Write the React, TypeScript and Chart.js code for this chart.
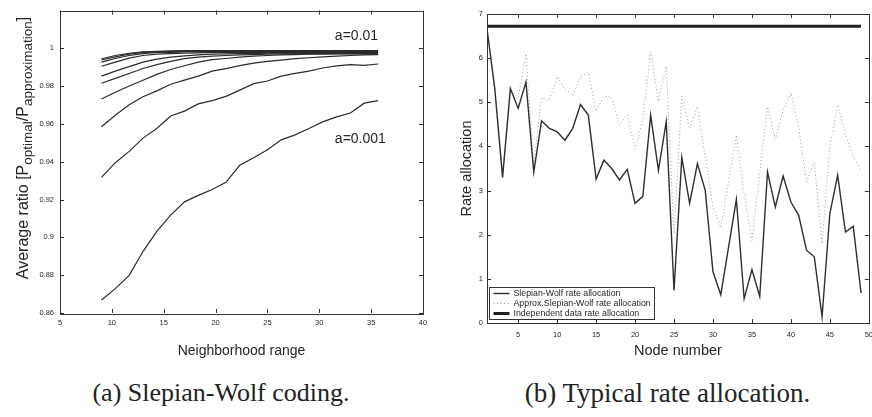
import { useEffect, useRef } from 'react';
import { Chart, registerables } from 'chart.js';

Chart.register(...registerables);

// ---------- (a) Slepian-Wolf coding ----------
const RANGE_X = [9, 10.33, 11.67, 13, 14.33, 15.67, 17, 18.33, 19.67, 21, 22.33, 23.67, 25, 26.33, 27.67, 29, 30.33, 31.67, 33, 34.33, 35.67];

const CURVE_1 = [0.9945, 0.9962, 0.9974, 0.9981, 0.9984, 0.9986, 0.9988, 0.9988, 0.9988, 0.9988, 0.9988, 0.9988, 0.9988, 0.9988, 0.9988, 0.9988, 0.9988, 0.9988, 0.9988, 0.9988, 0.9988];
const CURVE_2 = [0.9938, 0.9955, 0.9969, 0.9978, 0.9981, 0.9983, 0.9984, 0.9984, 0.9984, 0.9984, 0.9984, 0.9984, 0.9984, 0.9984, 0.9984, 0.9984, 0.9984, 0.9984, 0.9984, 0.9984, 0.9984];
const CURVE_3 = [0.9927, 0.9946, 0.9962, 0.9972, 0.9978, 0.9979, 0.9981, 0.9981, 0.9981, 0.9981, 0.9981, 0.9981, 0.9981, 0.9981, 0.9981, 0.9981, 0.9981, 0.9981, 0.9981, 0.9981, 0.9981];
const CURVE_4 = [0.9905, 0.9927, 0.9948, 0.9962, 0.9969, 0.9972, 0.9974, 0.9976, 0.9978, 0.9978, 0.9978, 0.9978, 0.9978, 0.9978, 0.9978, 0.9978, 0.9978, 0.9978, 0.9978, 0.9978, 0.9978];
const CURVE_5 = [0.9853, 0.9879, 0.9903, 0.9927, 0.9943, 0.9953, 0.996, 0.9965, 0.9969, 0.9971, 0.9972, 0.9972, 0.9974, 0.9974, 0.9974, 0.9974, 0.9976, 0.9976, 0.9976, 0.9976, 0.9976];
const CURVE_6 = [0.9815, 0.9841, 0.9867, 0.9893, 0.9914, 0.9931, 0.9945, 0.9953, 0.9959, 0.9962, 0.9965, 0.9967, 0.9969, 0.9971, 0.9971, 0.9972, 0.9972, 0.9972, 0.9972, 0.9972, 0.9972];
const CURVE_7 = [0.9732, 0.9768, 0.9801, 0.9831, 0.9862, 0.9888, 0.9908, 0.9927, 0.994, 0.9946, 0.9953, 0.9959, 0.9962, 0.9965, 0.9967, 0.9969, 0.9969, 0.9971, 0.9971, 0.9971, 0.9971];
const CURVE_8 = [0.9585, 0.9646, 0.9701, 0.9744, 0.9775, 0.981, 0.9832, 0.9853, 0.9879, 0.9893, 0.9908, 0.9922, 0.9931, 0.9938, 0.9945, 0.995, 0.9955, 0.9959, 0.9962, 0.9965, 0.9967];
const CURVE_9 = [0.9317, 0.9395, 0.9455, 0.9525, 0.9576, 0.9642, 0.9668, 0.9706, 0.9723, 0.9746, 0.9779, 0.9813, 0.9827, 0.9853, 0.9867, 0.9879, 0.9896, 0.9907, 0.9914, 0.991, 0.9917];
const CURVE_10 = [0.8669, 0.8729, 0.8799, 0.8925, 0.9032, 0.9118, 0.9188, 0.9222, 0.9253, 0.9291, 0.9381, 0.9421, 0.9464, 0.9516, 0.9542, 0.9576, 0.9611, 0.9637, 0.9658, 0.971, 0.9723];

const CURVES_A = [CURVE_1, CURVE_2, CURVE_3, CURVE_4, CURVE_5, CURVE_6, CURVE_7, CURVE_8, CURVE_9, CURVE_10];

const LABEL_TEXT = ['a=0.01', 'a=0.001'];
const LABEL_X = [31.5, 31.5];
const LABEL_Y = [1.0064, 0.952];

const Y_TITLE_A = [
  { text: 'Average ratio [P', sub: false },
  { text: 'optimal', sub: true },
  { text: '/P', sub: false },
  { text: 'approximation', sub: true },
  { text: ']', sub: false },
];

// ---------- (b) Typical rate allocation ----------
const NODES = [1, 2, 3, 4, 5, 6, 7, 8, 9, 10, 11, 12, 13, 14, 15, 16, 17, 18, 19, 20, 21, 22, 23, 24, 25, 26, 27, 28, 29, 30, 31, 32, 33, 34, 35, 36, 37, 38, 39, 40, 41, 42, 43, 44, 45, 46, 47, 48, 49];
const SW_RATE = [6.67, 5.3, 3.3, 5.31, 4.86, 5.46, 3.42, 4.58, 4.41, 4.33, 4.14, 4.41, 4.95, 4.71, 3.26, 3.69, 3.5, 3.24, 3.48, 2.71, 2.87, 4.71, 3.46, 4.56, 0.74, 3.75, 2.71, 3.61, 3.01, 1.16, 0.64, 1.72, 2.8, 0.55, 1.21, 0.6, 3.42, 2.63, 3.33, 2.74, 2.44, 1.65, 1.5, 0.14, 2.48, 3.35, 2.06, 2.19, 0.68];
const APPROX_RATE = [6.67, 5.4, 3.4, 5.3, 5.1, 6.1, 3.6, 5.1, 5.05, 5.58, 5.31, 5.15, 5.58, 5.69, 4.8, 5.14, 5.12, 4.48, 4.72, 3.94, 4.6, 6.14, 5.02, 5.82, 2.02, 5.14, 4.4, 4.9, 3.76, 2.63, 2.16, 3.2, 4.26, 2.93, 1.87, 3.39, 4.9, 4.16, 4.82, 5.22, 4.44, 3.2, 3.65, 1.8, 3.99, 4.94, 4.29, 3.76, 3.46];
const INDEP_RATE = [6.72, 6.72, 6.72, 6.72, 6.72, 6.72, 6.72, 6.72, 6.72, 6.72, 6.72, 6.72, 6.72, 6.72, 6.72, 6.72, 6.72, 6.72, 6.72, 6.72, 6.72, 6.72, 6.72, 6.72, 6.72, 6.72, 6.72, 6.72, 6.72, 6.72, 6.72, 6.72, 6.72, 6.72, 6.72, 6.72, 6.72, 6.72, 6.72, 6.72, 6.72, 6.72, 6.72, 6.72, 6.72, 6.72, 6.72, 6.72, 6.72];
const SERIES_B_LABELS = ['Slepian-Wolf rate allocation', 'Approx.Slepian-Wolf rate allocation', 'Independent data rate allocation'];

const CAPTION_A = '(a) Slepian-Wolf coding.';
const CAPTION_B = '(b) Typical rate allocation.';

// ---------- styling ----------
const SANS = '"Liberation Sans", Arial, sans-serif';
const INK = '#262626';
const AXIS = '#333333';
const TICK_FONT = { family: SANS, size: 7.5 };

// ---------- plugins ----------
const matlabAxes = {
  id: 'matlabAxes',
  afterDatasetsDraw(chart: any, _a: any, opts: any) {
    const { ctx, chartArea: ca, scales } = chart;
    const len = opts.tickLength ?? 4;
    ctx.save();
    ctx.strokeStyle = opts.color || AXIS;
    ctx.lineWidth = 1;
    ctx.beginPath();
    const xs = scales.x;
    const ys = scales.y;
    for (const t of xs.ticks) {
      const px = Math.round(xs.getPixelForValue(t.value)) + 0.5;
      ctx.moveTo(px, ca.bottom);
      ctx.lineTo(px, ca.bottom - len);
      ctx.moveTo(px, ca.top);
      ctx.lineTo(px, ca.top + len);
    }
    for (const t of ys.ticks) {
      const py = Math.round(ys.getPixelForValue(t.value)) + 0.5;
      ctx.moveTo(ca.left, py);
      ctx.lineTo(ca.left + len, py);
      ctx.moveTo(ca.right, py);
      ctx.lineTo(ca.right - len, py);
    }
    ctx.stroke();
    ctx.strokeRect(
      Math.round(ca.left) + 0.5,
      Math.round(ca.top) + 0.5,
      Math.round(ca.right - ca.left),
      Math.round(ca.bottom - ca.top)
    );
    ctx.restore();
  },
};

const curveLabels = {
  id: 'curveLabels',
  afterDatasetsDraw(chart: any, _a: any, opts: any) {
    if (!opts.texts) return;
    const { ctx, scales } = chart;
    ctx.save();
    ctx.fillStyle = INK;
    ctx.font = opts.font;
    ctx.textAlign = 'left';
    ctx.textBaseline = 'middle';
    opts.texts.forEach((t: string, i: number) => {
      ctx.fillText(t, scales.x.getPixelForValue(opts.xs[i]), scales.y.getPixelForValue(opts.ys[i]));
    });
    ctx.restore();
  },
};

const richYTitle = {
  id: 'richYTitle',
  afterDraw(chart: any, _a: any, opts: any) {
    if (!opts.parts) return;
    const { ctx } = chart;
    ctx.save();
    ctx.fillStyle = INK;
    ctx.textAlign = 'left';
    ctx.textBaseline = 'alphabetic';
    const widths = opts.parts.map((p: any) => {
      ctx.font = p.sub ? opts.subFont : opts.mainFont;
      return ctx.measureText(p.text).width;
    });
    const total = widths.reduce((a: number, b: number) => a + b, 0);
    ctx.translate(opts.x, opts.centerY);
    ctx.rotate(-Math.PI / 2);
    let cx = -total / 2;
    opts.parts.forEach((p: any, i: number) => {
      ctx.font = p.sub ? opts.subFont : opts.mainFont;
      ctx.fillText(p.text, cx, p.sub ? opts.subShift : 0);
      cx += widths[i];
    });
    ctx.restore();
  },
};

const boxLegend = {
  id: 'boxLegend',
  afterDraw(chart: any, _a: any, opts: any) {
    if (!opts.enabled) return;
    const { ctx, chartArea: ca } = chart;
    const ds = chart.data.datasets;
    ctx.save();
    ctx.font = opts.font;
    const textW = Math.max(...ds.map((d: any) => ctx.measureText(d.label).width));
    const rowH = opts.rowHeight;
    const boxW = Math.round(24 + textW + 4);
    const boxH = rowH * ds.length + 2;
    const x0 = Math.round(ca.left + 2) + 0.5;
    const y0 = Math.round(ca.bottom - 4 - boxH) + 0.5;
    ctx.fillStyle = '#ffffff';
    ctx.fillRect(x0, y0, boxW, boxH);
    ctx.strokeStyle = AXIS;
    ctx.lineWidth = 1;
    ctx.strokeRect(x0, y0, boxW, boxH);
    ds.forEach((d: any, i: number) => {
      const cy = y0 + 1 + rowH * i + rowH / 2;
      ctx.save();
      ctx.strokeStyle = d.borderColor;
      ctx.lineWidth = d.borderWidth;
      ctx.setLineDash(d.borderDash || []);
      ctx.beginPath();
      ctx.moveTo(x0 + 4, cy);
      ctx.lineTo(x0 + 20, cy);
      ctx.stroke();
      ctx.restore();
      ctx.fillStyle = INK;
      ctx.textAlign = 'left';
      ctx.textBaseline = 'middle';
      ctx.fillText(d.label, x0 + 24, cy + 0.5);
    });
    ctx.restore();
  },
};

const hiddenGrid = { display: false, drawTicks: false, tickLength: 0 };

// ---------- charts ----------
function ChartA() {
  const ref = useRef<HTMLCanvasElement>(null);
  useEffect(() => {
    if (!ref.current) return;
    const chart = new Chart(ref.current, {
      type: 'line',
      data: {
        datasets: CURVES_A.map((c) => ({
          data: RANGE_X.map((x, i) => ({ x, y: c[i] })),
          borderColor: '#2b2b2b',
          borderWidth: 1.2,
          pointRadius: 0,
          fill: false,
          tension: 0,
        })),
      },
      options: {
        responsive: false,
        animation: false,
        layout: { padding: { left: 0, top: 4, right: 17, bottom: 0 } },
        plugins: {
          legend: { display: false },
          tooltip: { enabled: false },
          matlabAxes: { tickLength: 4 },
          curveLabels: { texts: LABEL_TEXT, xs: LABEL_X, ys: LABEL_Y, font: `14px ${SANS}` },
          richYTitle: {
            parts: Y_TITLE_A,
            mainFont: `16px ${SANS}`,
            subFont: `13.5px ${SANS}`,
            subShift: 4,
            x: 28,
            centerY: 148,
          },
        } as any,
        scales: {
          x: {
            type: 'linear',
            min: 5,
            max: 40,
            ticks: { stepSize: 5, font: TICK_FONT, color: INK, padding: 5, maxRotation: 0, autoSkip: false },
            grid: hiddenGrid,
            border: { display: false },
            title: { display: true, text: 'Neighborhood range', color: INK, font: { family: SANS, size: 14 }, padding: { top: 0, bottom: 12 } },
            afterFit: (s: any) => { s.height = 59; },
          },
          y: {
            type: 'linear',
            min: 0.86,
            max: 1.02,
            ticks: {
              stepSize: 0.02,
              font: TICK_FONT,
              color: INK,
              padding: 6,
              autoSkip: false,
              callback: (v: any) => (Math.abs(v - 1.02) < 1e-6 ? '' : String(Math.round(v * 100) / 100)),
            },
            grid: hiddenGrid,
            border: { display: false },
            afterFit: (s: any) => { s.width = 60; },
          },
        },
      } as any,
      plugins: [matlabAxes, curveLabels, richYTitle] as any,
    });
    return () => chart.destroy();
  }, []);
  return <canvas ref={ref} width={440} height={372} style={{ position: 'absolute', left: 0, top: 0, width: 440, height: 372 }} />;
}

function ChartB() {
  const ref = useRef<HTMLCanvasElement>(null);
  useEffect(() => {
    if (!ref.current) return;
    const series = [
      { label: SERIES_B_LABELS[0], values: SW_RATE, color: '#2e2e2e', width: 1.4, dash: [] as number[] },
      { label: SERIES_B_LABELS[1], values: APPROX_RATE, color: '#9a9a9a', width: 1, dash: [1, 2.5] },
      { label: SERIES_B_LABELS[2], values: INDEP_RATE, color: '#202020', width: 3, dash: [] as number[] },
    ];
    const chart = new Chart(ref.current, {
      type: 'line',
      data: {
        datasets: series.map((s) => ({
          label: s.label,
          data: NODES.map((n, i) => ({ x: n, y: s.values[i] })),
          borderColor: s.color,
          borderWidth: s.width,
          borderDash: s.dash,
          pointRadius: 0,
          fill: false,
          tension: 0,
        })),
      },
      options: {
        responsive: false,
        animation: false,
        layout: { padding: { left: 0, top: 14, right: 5, bottom: 0 } },
        plugins: {
          legend: { display: false },
          tooltip: { enabled: false },
          matlabAxes: { tickLength: 4 },
          boxLegend: { enabled: true, font: `8.8px ${SANS}`, rowHeight: 10 },
        } as any,
        scales: {
          x: {
            type: 'linear',
            min: 1,
            max: 50,
            ticks: { stepSize: 5, includeBounds: false, font: TICK_FONT, color: INK, padding: 7, maxRotation: 0, autoSkip: false },
            grid: hiddenGrid,
            border: { display: false },
            title: { display: true, text: 'Node number', color: INK, font: { family: SANS, size: 14.5 }, padding: { top: 0, bottom: 12 } },
            afterFit: (s: any) => { s.height = 49; },
          },
          y: {
            type: 'linear',
            min: 0,
            max: 7,
            ticks: { stepSize: 1, font: TICK_FONT, color: INK, padding: 4, autoSkip: false },
            grid: hiddenGrid,
            border: { display: false },
            title: { display: true, text: 'Rate allocation', color: INK, font: { family: SANS, size: 14.5 }, padding: { top: 18, bottom: 0 } },
            afterFit: (s: any) => { s.width = 47; },
          },
        },
      } as any,
      plugins: [matlabAxes, boxLegend] as any,
    });
    return () => chart.destroy();
  }, []);
  return <canvas ref={ref} width={440} height={372} style={{ position: 'absolute', left: 440, top: 0, width: 440, height: 372 }} />;
}

const captionStyle: any = {
  position: 'absolute',
  top: 378,
  height: 30,
  lineHeight: '30px',
  textAlign: 'center',
  fontFamily: '"Liberation Serif", "Times New Roman", serif',
  color: '#222',
  whiteSpace: 'nowrap',
};

export default function App() {
  return (
    <div style={{ position: 'fixed', left: 0, top: 0, width: 872, height: 417, overflow: 'hidden', background: '#ffffff' }}>
      <ChartA />
      <ChartB />
      <div style={{ ...captionStyle, left: 0, width: 442, fontSize: 26 }}>{CAPTION_A}</div>
      <div style={{ ...captionStyle, left: 463, width: 409, fontSize: 27 }}>{CAPTION_B}</div>
    </div>
  );
}
